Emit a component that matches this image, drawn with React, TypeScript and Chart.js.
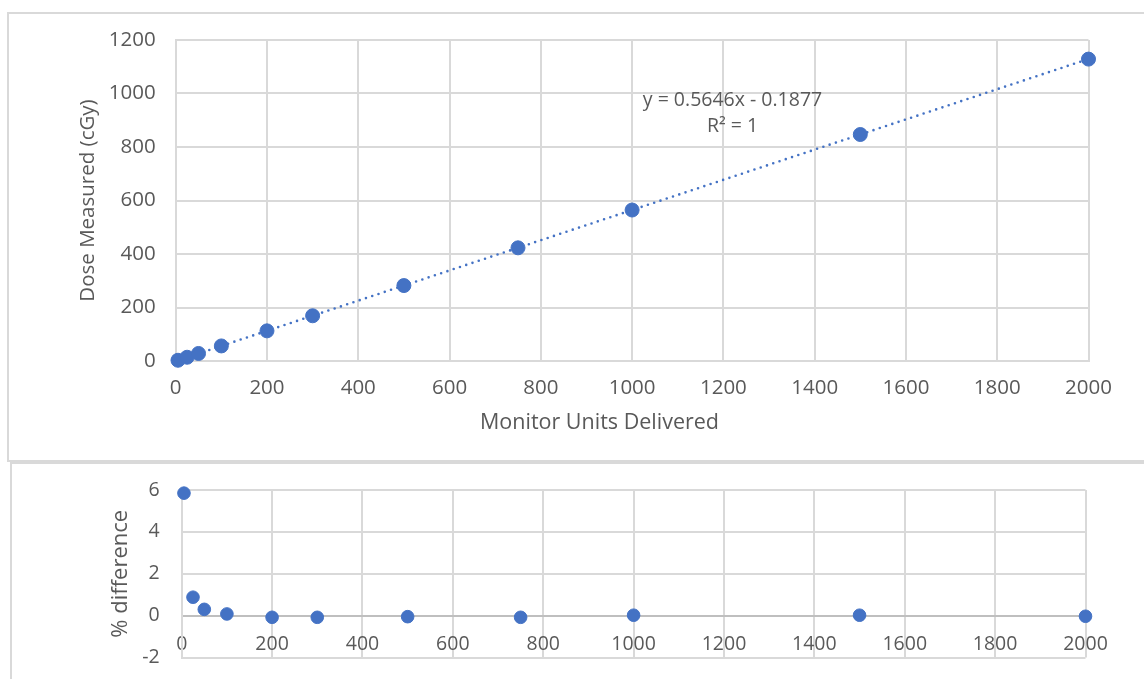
import React, { useEffect, useRef } from "react";
import { Chart, registerables } from "chart.js";
Chart.register(...registerables);

// ---- data ----
const monitorUnits = [5, 25, 50, 100, 200, 300, 500, 750, 1000, 1500, 2000];
const doseMeasured = [2.79, 14.02, 28.13, 56.32, 112.64, 169.06, 281.98, 423.02, 564.41, 846.71, 1128.6];
const percentDifference = [5.85, 0.88, 0.3, 0.08, -0.08, -0.08, -0.05, -0.08, 0.02, 0.02, -0.03];
const trendUnits = [5, 2000];
const trendDose = [2.64, 1129.0];
const trendLabel = ["y = 0.5646x - 0.1877", "R² = 1"];
const muTicks = [0, 200, 400, 600, 800, 1000, 1200, 1400, 1600, 1800, 2000];
const doseTicks = [0, 200, 400, 600, 800, 1000, 1200];
const diffTicks = [-2, 0, 2, 4, 6];
const xTitle = "Monitor Units Delivered";
const yTitleTop = "Dose Measured (cGy)";
const yTitleBottom = "% difference";

const BLUE = "#4472C4";
const TEXT = "#595959";
const GRID = "#D9D9D9";
const AXIS = "#BFBFBF";
const FONT = "'Open Sans', sans-serif";

const pts = (xs: number[], ys: number[]) => xs.map((x, i) => ({ x, y: ys[i] }));

const textPlugin = {
  id: "extraText",
  afterDatasetsDraw(chart: any, _a: any, opts: any) {
    const ctx = chart.ctx;
    ctx.save();
    ctx.fillStyle = TEXT;
    ctx.textAlign = "center";
    ctx.textBaseline = "middle";
    (opts.items || []).forEach((it: any) => {
      ctx.font = `${it.size}px ${FONT}`;
      let px = it.px, py = it.py;
      if (it.dataX !== undefined) {
        px = chart.scales.x.getPixelForValue(it.dataX);
        py = chart.scales.y.getPixelForValue(it.dataY);
      }
      ctx.fillText(it.text, px, py);
    });
    ctx.restore();
  },
};

function TopChart() {
  const ref = useRef<HTMLCanvasElement>(null);
  useEffect(() => {
    const chart = new Chart(ref.current!, {
      type: "scatter",
      data: {
        datasets: [
          {
            data: pts(monitorUnits, doseMeasured),
            backgroundColor: BLUE,
            borderColor: BLUE,
            pointRadius: 7,
            pointHoverRadius: 7,
            clip: false,
            order: 1,
          } as any,
          {
            type: "line",
            data: pts(trendUnits, trendDose),
            borderColor: BLUE,
            borderWidth: 2.6,
            borderDash: [0, 6.6],
            borderCapStyle: "round",
            pointRadius: 0,
            fill: false,
            clip: false,
            order: 2,
          } as any,
        ],
      },
      options: {
        animation: false,
        responsive: false,
        events: [],
        layout: { padding: { left: 0, top: 40, right: 55.5, bottom: 0 } },
        plugins: {
          legend: { display: false },
          tooltip: { enabled: false },
          extraText: {
            items: [
              { text: trendLabel[0], size: 19.5, dataX: 1220, dataY: 975 },
              { text: trendLabel[1], size: 19.5, dataX: 1220, dataY: 877 },
              { text: xTitle, size: 21.5, px: 599.5, py: 423 },
            ],
          },
        } as any,
        scales: {
          x: {
            type: "linear",
            min: 0,
            max: 2000,
            afterBuildTicks: (s: any) => { s.ticks = muTicks.map((v) => ({ value: v })); },
            afterFit: (s: any) => { s.height = 101; },
            grid: { color: GRID, lineWidth: 2, drawTicks: false },
            border: { color: GRID, width: 2 },
            ticks: { color: TEXT, font: { family: FONT, size: 20.5 }, padding: 15, maxRotation: 0, callback: (v: any) => String(v) },
          },
          y: {
            type: "linear",
            min: 0,
            max: 1200,
            afterBuildTicks: (s: any) => { s.ticks = doseTicks.map((v) => ({ value: v })); },
            afterFit: (s: any) => { s.width = 175.7; s.paddingTop = 0; s.paddingBottom = 0; },
            grid: { color: GRID, lineWidth: 2, drawTicks: false },
            border: { color: GRID, width: 2 },
            ticks: { color: TEXT, font: { family: FONT, size: 20.5 }, padding: 20, callback: (v: any) => String(v) },
            title: {
              display: true,
              text: yTitleTop,
              color: TEXT,
              font: { family: FONT, size: 20.5 },
              padding: { top: 75.7, bottom: 0 },
            },
          },
        },
      },
      plugins: [textPlugin],
    });
    return () => chart.destroy();
  }, []);
  return <canvas ref={ref} width={1144} height={462} style={{ position: "absolute", left: 0, top: 0 }} />;
}

function BottomChart() {
  const ref = useRef<HTMLCanvasElement>(null);
  useEffect(() => {
    const chart = new Chart(ref.current!, {
      type: "scatter",
      data: {
        datasets: [
          {
            data: pts(monitorUnits, percentDifference),
            backgroundColor: BLUE,
            borderColor: BLUE,
            pointRadius: 6.3,
            pointHoverRadius: 6.3,
            clip: false,
          } as any,
        ],
      },
      options: {
        animation: false,
        responsive: false,
        events: [],
        layout: { padding: { left: 0, top: 27, right: 58.5, bottom: 21.5 } },
        plugins: { legend: { display: false }, tooltip: { enabled: false } },
        scales: {
          x: {
            type: "linear",
            position: { y: 0 } as any,
            min: 0,
            max: 2000,
            afterBuildTicks: (s: any) => { s.ticks = muTicks.map((v) => ({ value: v })); },
            afterFit: (s: any) => { s.height = 0; s.paddingLeft = 0; s.paddingRight = 0; },
            grid: { color: GRID, lineWidth: 2, drawTicks: false },
            border: { color: AXIS, width: 2 },
            ticks: { color: TEXT, font: { family: FONT, size: 19.5 }, padding: 17, maxRotation: 0, callback: (v: any) => String(v) },
          },
          y: {
            type: "linear",
            min: -2,
            max: 6,
            afterBuildTicks: (s: any) => { s.ticks = diffTicks.map((v) => ({ value: v })); },
            afterFit: (s: any) => { s.width = 181.7; s.paddingTop = 0; s.paddingBottom = 0; },
            grid: { color: GRID, lineWidth: 2, drawTicks: false },
            border: { color: GRID, width: 2 },
            ticks: { color: TEXT, font: { family: FONT, size: 19.5 }, padding: 22, callback: (v: any) => String(v) },
            title: {
              display: true,
              text: yTitleBottom,
              color: TEXT,
              font: { family: FONT, size: 22 },
              padding: { top: 107.8, bottom: 0 },
            },
          },
        },
      },
    });
    return () => chart.destroy();
  }, []);
  return <canvas ref={ref} width={1144} height={216} style={{ position: "absolute", left: 0, top: 463 }} />;
}

export default function App() {
  return (
    <div style={{ position: "absolute", left: 0, top: 0, width: 1144, height: 679, overflow: "hidden", background: "#fff" }}>
      <div style={{ position: "absolute", left: 7, top: 12, width: 1170, height: 450, border: "2px solid #D9D9D9", boxSizing: "border-box" }} />
      <div style={{ position: "absolute", left: 10, top: 462, width: 1170, height: 240, border: "2px solid #D9D9D9", boxSizing: "border-box" }} />
      <TopChart />
      <BottomChart />
    </div>
  );
}
